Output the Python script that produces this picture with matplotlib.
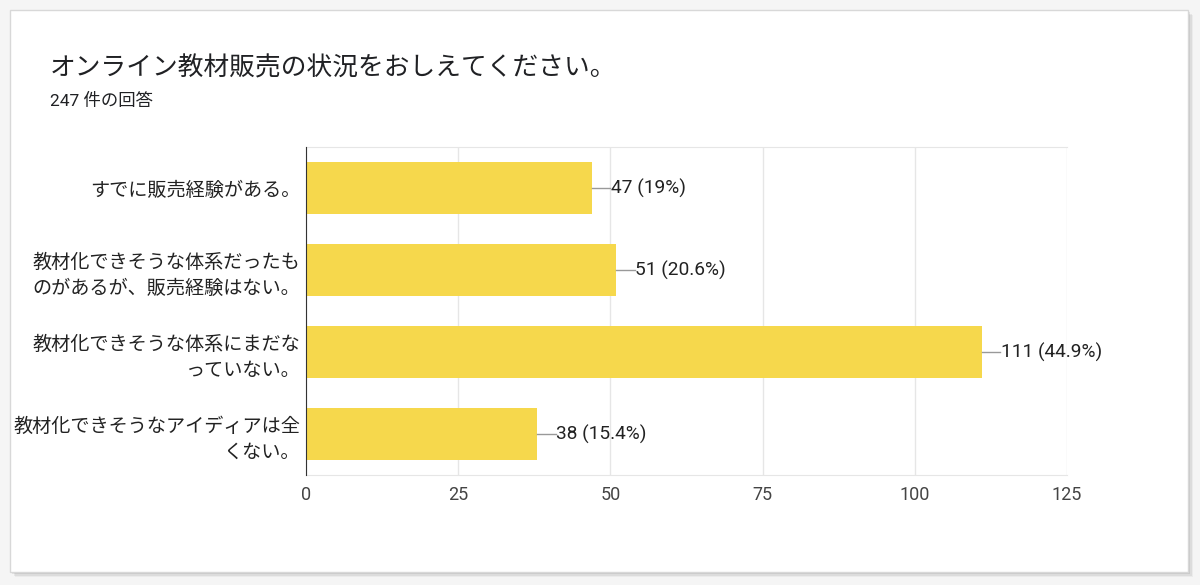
import matplotlib
matplotlib.use('Agg')
import matplotlib.pyplot as plt
from matplotlib.patches import Rectangle

# data
categories = [
    'すでに販売経験がある。',
    '教材化できそうな体系だったも\nのがあるが、販売経験はない。',
    '教材化できそうな体系にまだな\nっていない。',
    '教材化できそうなアイディアは全\nくない。',
]
counts = [47, 51, 111, 38]
percent_labels = ['19%', '20.6%', '44.9%', '15.4%']
x_ticks = [0, 25, 50, 75, 100, 125]

title = 'オンライン教材販売の状況をおしえてください。'
subtitle = '247 件の回答'

plt.rcParams['font.family'] = ['Noto Sans CJK JP', 'DejaVu Sans']
num_font = ['Roboto', 'Noto Sans CJK JP']

fig = plt.figure(figsize=(12, 5.85), dpi=100)
fig.patch.set_facecolor('#f5f5f5')

# card with soft shadow on right/bottom
for i, a in enumerate([0.10, 0.08, 0.06, 0.04]):
    d = (i + 1) * 1.2
    fig.patches.append(Rectangle(((10 + d) / 1200, 1 - (572 + d) / 585),
                                 1178 / 1200, 562 / 585,
                                 transform=fig.transFigure, facecolor='black',
                                 alpha=a, edgecolor='none', zorder=-3))
fig.patches.append(Rectangle((10 / 1200, 1 - 572 / 585), 1178 / 1200, 562 / 585,
                             transform=fig.transFigure, facecolor='white',
                             edgecolor='#d8d8d8', linewidth=1, zorder=-2))

fig.text(50 / 1200, 1 - 68 / 585, title, fontsize=18.5, color='#202124',
         va='center', ha='left')
fig.text(50 / 1200, 1 - 101 / 585, subtitle, fontsize=12.5, color='#202124',
         va='center', ha='left', family=['Roboto', 'Noto Sans CJK JP'])

ax = fig.add_axes([306 / 1200, 1 - 475 / 585, 761 / 1200, 328 / 585])
ax.set_zorder(2)
ax.set_facecolor('none')
ypos = list(range(len(categories)))
ax.barh(ypos, counts, height=0.63, color='#f6d84c', zorder=2)
ax.set_xlim(0, 125)
ax.set_ylim(len(categories) - 0.5, -0.5)
ax.set_xticks(x_ticks)
ax.set_xticklabels([str(t) for t in x_ticks], family=num_font, fontsize=13,
                   color='#444444')
ax.set_yticks(ypos)
ax.set_yticklabels(categories, fontsize=13.8, color='#222222', linespacing=1.35)
ax.tick_params(axis='both', length=0)
ax.tick_params(axis='x', pad=8)
ax.tick_params(axis='y', pad=4)
ax.grid(axis='x', color='#e6e6e6', linewidth=1, zorder=0)
for side in ['top', 'bottom', 'right']:
    ax.spines[side].set_color('#e6e6e6')
ax.spines['right'].set_visible(False)
ax.spines['left'].set_color('#333333')
ax.spines['left'].set_zorder(3)

for y, c, p in zip(ypos, counts, percent_labels):
    ax.plot([c, c + 3.0], [y, y], color='#999999', linewidth=1, zorder=3)
    ax.text(c + 3.1, y, f'{c} ({p})', family=num_font, fontsize=13.8,
            color='#222222', va='center', ha='left')

fig.savefig('out.png', dpi=100, facecolor=fig.get_facecolor())
